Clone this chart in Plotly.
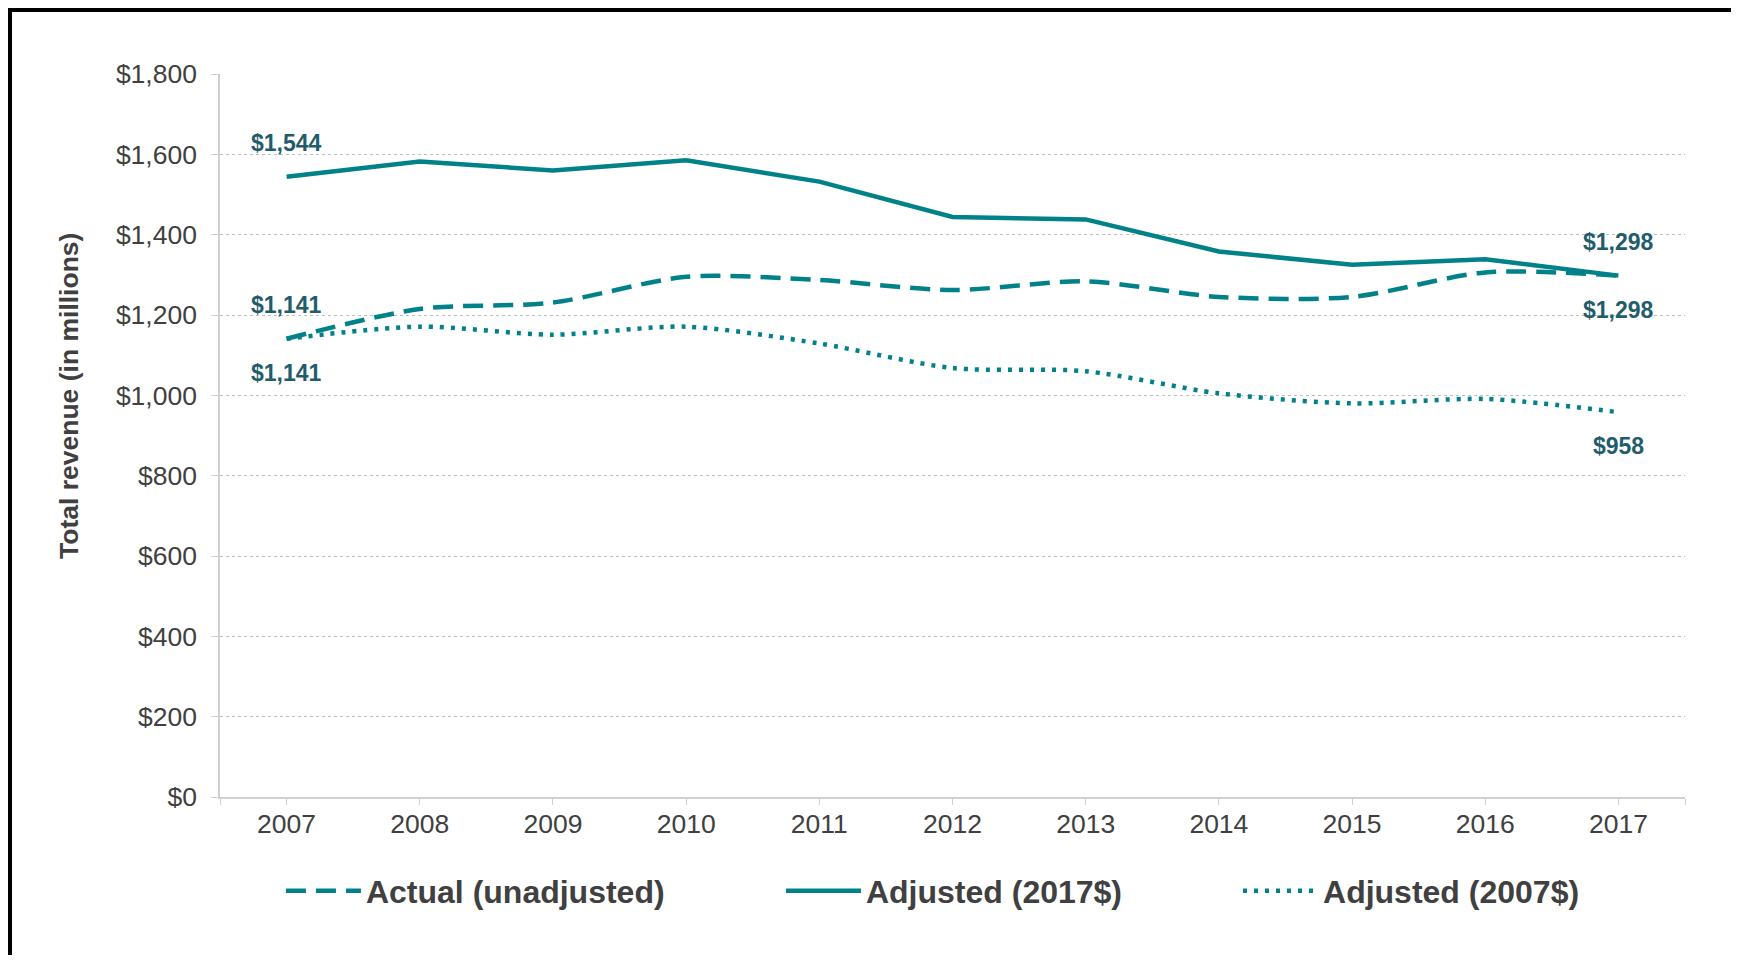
import plotly.graph_objects as go

years = [2007, 2008, 2009, 2010, 2011, 2012, 2013, 2014, 2015, 2016, 2017]
actual = [1141, 1215, 1231, 1295, 1287, 1262, 1284, 1245, 1245, 1306, 1298]
adj_2017 = [1544, 1582, 1560, 1585, 1532, 1444, 1438, 1358, 1325, 1339, 1298]
adj_2007 = [1141, 1171, 1151, 1171, 1129, 1068, 1060, 1005, 980, 991, 958]
y_ticks = [0, 200, 400, 600, 800, 1000, 1200, 1400, 1600, 1800]

TEAL = "#008288"
LABEL = "#1F5D6C"
GREY = "#404040"
SANS = "Liberation Sans, Arial, sans-serif"

fig = go.Figure()
fig.add_trace(go.Scatter(
    x=years, y=actual, name="Actual (unadjusted)", mode="lines", legend="legend",
    line=dict(color=TEAL, width=4.5, dash="20px,10px", shape="spline", smoothing=0.8),
))
fig.add_trace(go.Scatter(
    x=years, y=adj_2017, name="Adjusted (2017$)", mode="lines", legend="legend2",
    line=dict(color=TEAL, width=4.5),
))
fig.add_trace(go.Scatter(
    x=years, y=adj_2007, name="Adjusted (2007$)", mode="lines", legend="legend3",
    line=dict(color=TEAL, width=4.5, dash="4px,7px", shape="spline", smoothing=0.8),
))

# end-point labels: (series, index, shift)
labels = [
    (adj_2017, 0, 34), (actual, 0, 34), (adj_2007, 0, -34),
    (adj_2017, -1, 34), (actual, -1, -34), (adj_2007, -1, -34),
]
for series, i, shift in labels:
    fig.add_annotation(
        x=years[i], y=series[i], text=f"${series[i]:,}", showarrow=False,
        yshift=shift,
        font=dict(family=SANS, size=23, color=LABEL, weight="bold"),
    )

# y-axis title sits a little above the plot's middle
fig.add_annotation(
    text="Total revenue (in millions)", textangle=-90, showarrow=False,
    xref="paper", yref="paper", x=-0.1031, y=0.5546,
    xanchor="center", yanchor="middle",
    font=dict(family=SANS, size=26.5, color=GREY, weight="bold"),
)

# frame (top and left edges only)
fig.add_shape(type="line", xref="paper", yref="paper", x0=-0.1447, x1=-0.1447,
              y0=1.0913, y1=-0.3, line=dict(color="black", width=8))
fig.add_shape(type="line", xref="paper", yref="paper", x0=-0.1447, x1=1.05,
              y0=1.0913, y1=1.0913, line=dict(color="black", width=8))

leg = dict(orientation="h", y=-0.13, xanchor="left", yanchor="middle", itemwidth=75,
           font=dict(family=SANS, size=32, color=GREY, weight="bold"))

fig.update_layout(
    width=1723, height=947,
    paper_bgcolor="white", plot_bgcolor="white",
    margin=dict(l=212, r=46, t=66, b=158),
    font=dict(family=SANS, color=GREY),
    showlegend=True,
    legend=dict(leg, x=0.0416),
    legend2=dict(leg, x=0.3829),
    legend3=dict(leg, x=0.6949),
)
fig.update_xaxes(
    range=[2006.5, 2017.5], tickvals=years, ticktext=[str(y) for y in years],
    showline=True, linecolor="#D0D0D0", linewidth=1.5,
    ticks="outside", ticklen=6, tickcolor="#D0D0D0", ticklabelstandoff=-4,
    minor=dict(tickvals=[2006.5, 2017.5], ticks="outside", ticklen=6, tickcolor="#D0D0D0"),
    showgrid=False, zeroline=False,
    tickfont=dict(size=26.5, color=GREY),
)
fig.update_yaxes(
    range=[0, 1800], tickvals=y_ticks, ticktext=[f"${v:,}" for v in y_ticks],
    showline=True, linecolor="#D0D0D0", linewidth=1.5,
    ticks="outside", ticklen=7, tickcolor="#D0D0D0", ticklabelstandoff=9,
    showgrid=True, gridcolor="#BFBFBF", griddash="dot", gridwidth=1,
    zeroline=False,
    tickfont=dict(size=26.5, color=GREY),
)

fig.write_html("out.html")
